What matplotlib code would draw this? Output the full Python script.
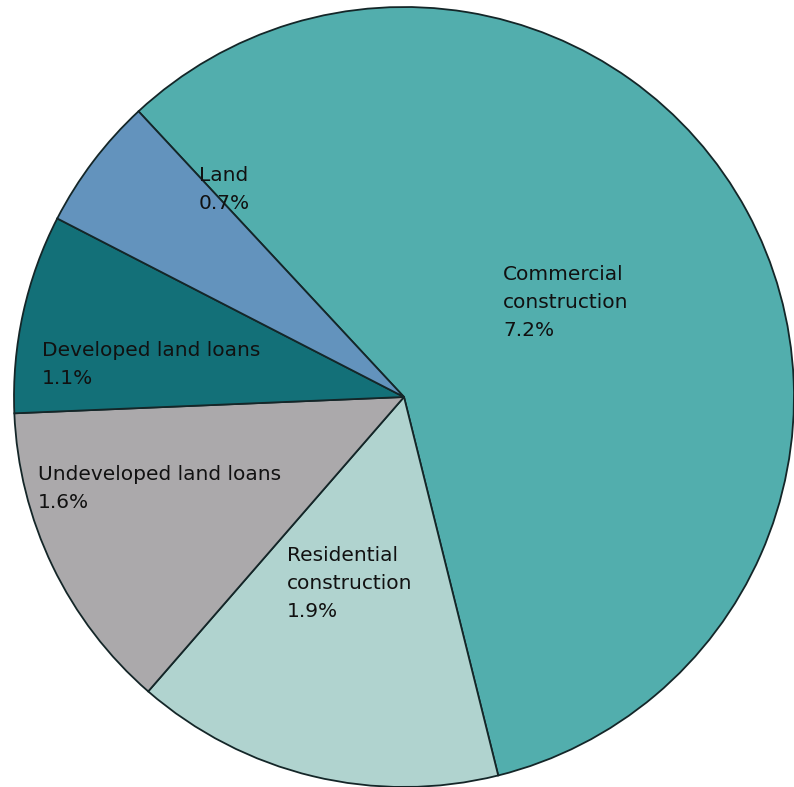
import matplotlib
matplotlib.use("Agg")
import matplotlib.pyplot as plt

# loan categories, printed shares (%) and slice sizes
labels = ["Commercial\nconstruction", "Residential\nconstruction",
          "Undeveloped land loans", "Developed land loans", "Land"]
pct_text = [7.2, 1.9, 1.6, 1.1, 0.7]
values = [7.26, 1.91, 1.62, 1.03, 0.69]
colors = ["#52aead", "#b0d3cf", "#aba9ab", "#137078", "#6393bd"]

# top-left corner of each label, in image pixels
label_pos = [(503, 265), (287, 546), (38, 465), (42, 341), (199, 166)]

W, H = 794, 787
fig = plt.figure(figsize=(W / 100, H / 100), dpi=100)
ax = fig.add_axes([0, 0, 1, 1])

ax.pie(values, colors=colors, startangle=132.9, counterclock=False,
       center=(404, H - 397), radius=390, frame=True,
       wedgeprops=dict(edgecolor="#142628", linewidth=1.3))
ax.set_xlim(0, W)
ax.set_ylim(0, H)
ax.set_aspect("equal")
ax.axis("off")

for lab, p, (px, py) in zip(labels, pct_text, label_pos):
    ax.text(px, H - py, f"{lab}\n{p}%", ha="left", va="top",
            fontsize=14.5, color="#111111", linespacing=1.6)

fig.savefig("out.png", dpi=100)
